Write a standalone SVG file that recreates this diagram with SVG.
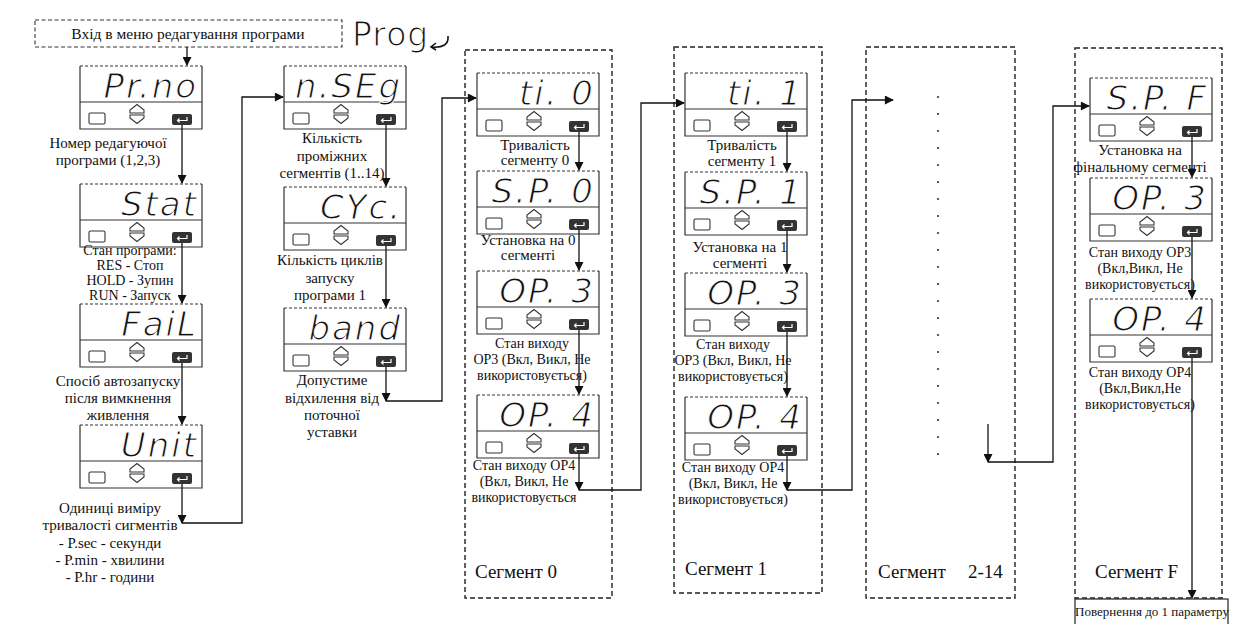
<svg xmlns="http://www.w3.org/2000/svg" xmlns:xlink="http://www.w3.org/1999/xlink" width="1233" height="624" viewBox="0 0 1233 624">
<style>
.lbl{font-family:"Liberation Serif","Times New Roman",serif;font-size:15px;fill:#111;text-anchor:middle}
.sm{font-size:14px}
.seg{font-family:"Liberation Serif","Times New Roman",serif;font-size:19px;fill:#111}
.disp{font-family:"DejaVu Sans","Liberation Sans",sans-serif;font-size:34px;fill:#111;text-anchor:end;font-style:italic;letter-spacing:2px;stroke:#fff;stroke-width:1.1px}
.cont{fill:none;stroke:#222;stroke-width:1.4;stroke-dasharray:5 3}
.conn path{fill:none;stroke:#111;stroke-width:1.3}
.arr{marker-end:url(#ah)}
</style>
<defs>
<marker id="ah" viewBox="0 0 10 10" refX="9" refY="5" markerWidth="10" markerHeight="9" markerUnits="userSpaceOnUse" orient="auto">
<path d="M0 0 L10 5 L0 10 Z" fill="#111"/>
</marker>
<g id="panel">
<rect x="0" y="0" width="122" height="63" fill="#fff" stroke="none"/>
<path d="M0 0 V63 H122 V0" fill="none" stroke="#333" stroke-width="1.2"/>
<path d="M0 0 H122" fill="none" stroke="#333" stroke-width="1" stroke-dasharray="3 2"/>
<path d="M0 36 H122" fill="none" stroke="#333" stroke-width="1.2"/>
<rect x="9" y="47" width="16" height="11" rx="1.5" fill="none" stroke="#333" stroke-width="1.1"/>
<path d="M50 47 V44 L57 38.5 L64 44 V47 Z" fill="none" stroke="#333" stroke-width="1.1"/>
<path d="M50 49 H64 V52 L57 57.5 L50 52 Z" fill="none" stroke="#333" stroke-width="1.1"/>
<rect x="92" y="48" width="20" height="11" rx="2" fill="#333"/>
<path d="M107 51 V54.5 H97.5 M99.5 52.5 L97.5 54.5 L99.5 56.5" fill="none" stroke="#fff" stroke-width="1.2"/>
</g>
</defs>
<rect width="1233" height="624" fill="#fff"/>

<g id="start">
<rect x="35" y="20" width="307" height="27" fill="none" stroke="#333" stroke-width="1.1" stroke-dasharray="4 2.5"/>
<text class="lbl" x="188" y="38.5" style="font-size:15.5px">Вхід в меню редагування програми</text>
</g>
<g id="prog-note">
<text x="352" y="46" style="font-family:'DejaVu Sans',sans-serif;font-size:33px;fill:#111;letter-spacing:1px;stroke:#fff;stroke-width:1.2px">Prog</text>
<path d="M448 36 C449 45 442 48 432 47 M436 43 L431 47 L436 50" fill="none" stroke="#111" stroke-width="1.6"/>
</g>

<g id="n-prno"><use xlink:href="#panel" x="80" y="66"/><text class="disp" x="198" y="98">Pr.no</text>
<text class="lbl" x="108" y="148">Номер редагуючої</text><text class="lbl" x="108" y="165">програми (1,2,3)</text></g>
<g id="n-stat"><use xlink:href="#panel" x="80" y="184"/><text class="disp" x="198" y="216">Stat</text>
<text class="lbl sm" x="130" y="255">Стан програми:</text><text class="lbl sm" x="130" y="270">RES - Стоп</text><text class="lbl sm" x="130" y="285">HOLD - Зупин</text><text class="lbl sm" x="130" y="300">RUN - Запуск</text></g>
<g id="n-fail"><use xlink:href="#panel" x="80" y="304"/><text class="disp" x="198" y="336">FaiL</text>
<text class="lbl" x="118" y="386">Спосіб автозапуску</text><text class="lbl" x="118" y="403">після вимкнення</text><text class="lbl" x="118" y="420">живлення</text></g>
<g id="n-unit"><use xlink:href="#panel" x="80" y="425"/><text class="disp" x="198" y="457">Unit</text>
<text class="lbl" x="110" y="513">Одиниці виміру</text><text class="lbl" x="110" y="530">тривалості сигментів</text><text class="lbl" x="110" y="548">- P.sec - секунди</text><text class="lbl" x="110" y="565">- P.min - хвилини</text><text class="lbl" x="110" y="582">- P.hr - години</text></g>

<g id="n-nseg"><use xlink:href="#panel" x="284" y="66"/><text class="disp" x="402" y="98">n.SEg</text>
<text class="lbl" x="332" y="143">Кількість</text><text class="lbl" x="332" y="161">проміжних</text><text class="lbl" x="332" y="178">сегментів (1..14)</text></g>
<g id="n-cyc"><use xlink:href="#panel" x="284" y="187"/><text class="disp" x="402" y="219">CYc.</text>
<text class="lbl" x="330" y="265">Кількість циклів</text><text class="lbl" x="330" y="283">запуску</text><text class="lbl" x="330" y="300">програми 1</text></g>
<g id="n-band"><use xlink:href="#panel" x="284" y="308"/><text class="disp" x="402" y="340">band</text>
<text class="lbl" x="332" y="385">Допустиме</text><text class="lbl" x="332" y="403">відхилення від</text><text class="lbl" x="332" y="420">поточної</text><text class="lbl" x="332" y="437">уставки</text></g>

<g id="seg0">
<rect class="cont" x="465" y="50" width="147" height="548"/>
<text class="seg" x="475" y="578">Сегмент 0</text>
</g>
<g id="n-ti0"><use xlink:href="#panel" x="477" y="73"/><text class="disp" x="595" y="105">ti. 0</text>
<text class="lbl" x="535" y="150">Тривалість</text><text class="lbl" x="535" y="165">сегменту 0</text></g>
<g id="n-sp0"><use xlink:href="#panel" x="477" y="171"/><text class="disp" x="595" y="203">S.P. 0</text>
<text class="lbl" x="528" y="245">Установка на 0</text><text class="lbl" x="528" y="260">сегменті</text></g>
<g id="n-op3-0"><use xlink:href="#panel" x="477" y="271"/><text class="disp" x="595" y="303">OP. 3</text>
<text class="lbl sm" x="532" y="348">Стан виходу</text><text class="lbl sm" x="532" y="364">OP3 (Вкл, Викл, Не</text><text class="lbl sm" x="532" y="380">використовується)</text></g>
<g id="n-op4-0"><use xlink:href="#panel" x="477" y="395"/><text class="disp" x="595" y="427">OP. 4</text>
<text class="lbl sm" x="524" y="470">Стан виходу OP4</text><text class="lbl sm" x="524" y="486">(Вкл, Викл, Не</text><text class="lbl sm" x="524" y="502">використовується</text></g>

<g id="seg1">
<rect class="cont" x="674" y="47" width="148" height="546"/>
<text class="seg" x="685" y="575">Сегмент 1</text>
</g>
<g id="n-ti1"><use xlink:href="#panel" x="685" y="73"/><text class="disp" x="803" y="105">ti. 1</text>
<text class="lbl" x="742" y="150">Тривалість</text><text class="lbl" x="742" y="166">сегменту 1</text></g>
<g id="n-sp1"><use xlink:href="#panel" x="685" y="172"/><text class="disp" x="803" y="204">S.P. 1</text>
<text class="lbl" x="740" y="252">Установка на 1</text><text class="lbl" x="740" y="268">сегменті</text></g>
<g id="n-op3-1"><use xlink:href="#panel" x="685" y="273"/><text class="disp" x="803" y="305">OP. 3</text>
<text class="lbl sm" x="733" y="349">Стан виходу</text><text class="lbl sm" x="733" y="365">OP3 (Вкл, Викл, Не</text><text class="lbl sm" x="733" y="381">використовується)</text></g>
<g id="n-op4-1"><use xlink:href="#panel" x="685" y="397"/><text class="disp" x="803" y="429">OP. 4</text>
<text class="lbl sm" x="733" y="472">Стан виходу OP4</text><text class="lbl sm" x="733" y="488">(Вкл, Викл, Не</text><text class="lbl sm" x="733" y="504">використовується)</text></g>

<g id="seg2-14">
<rect class="cont" x="866" y="47" width="149" height="551"/>
<g fill="#333">
<circle cx="938" cy="97" r="1.1"/><circle cx="938" cy="114" r="1.1"/><circle cx="938" cy="131" r="1.1"/><circle cx="938" cy="148" r="1.1"/><circle cx="938" cy="165" r="1.1"/><circle cx="938" cy="182" r="1.1"/><circle cx="938" cy="199" r="1.1"/><circle cx="938" cy="216" r="1.1"/><circle cx="938" cy="233" r="1.1"/><circle cx="938" cy="250" r="1.1"/><circle cx="938" cy="267" r="1.1"/><circle cx="938" cy="284" r="1.1"/><circle cx="938" cy="301" r="1.1"/><circle cx="938" cy="318" r="1.1"/><circle cx="938" cy="335" r="1.1"/><circle cx="938" cy="352" r="1.1"/><circle cx="938" cy="369" r="1.1"/><circle cx="938" cy="386" r="1.1"/><circle cx="938" cy="403" r="1.1"/><circle cx="938" cy="420" r="1.1"/><circle cx="938" cy="437" r="1.1"/><circle cx="938" cy="454" r="1.1"/>
</g>
<text class="seg" x="878" y="578">Сегмент</text><text class="seg" x="968" y="578">2-14</text>
</g>

<g id="segF">
<rect class="cont" x="1075" y="48" width="147" height="550"/>
<text class="seg" x="1095" y="578">Сегмент F</text>
</g>
<g id="n-spf"><use xlink:href="#panel" x="1090" y="78"/><text class="disp" x="1208" y="110">S.P. F</text>
<text class="lbl" x="1140" y="155">Установка на</text><text class="lbl" x="1140" y="172">фінальному сегменті</text></g>
<g id="n-op3-f"><use xlink:href="#panel" x="1090" y="178"/><text class="disp" x="1208" y="210">OP. 3</text>
<text class="lbl sm" x="1140" y="257">Стан виходу OP3</text><text class="lbl sm" x="1140" y="273">(Вкл,Викл, Не</text><text class="lbl sm" x="1140" y="289">використовується)</text></g>
<g id="n-op4-f"><use xlink:href="#panel" x="1090" y="299"/><text class="disp" x="1208" y="331">OP. 4</text>
<text class="lbl sm" x="1140" y="377">Стан виходу OP4</text><text class="lbl sm" x="1140" y="393">(Вкл,Викл,Не</text><text class="lbl sm" x="1140" y="409">використовується)</text></g>

<g id="n-return">
<rect x="1075" y="599" width="153" height="32" fill="#fff" stroke="#222" stroke-width="1.2"/>
<text class="lbl" x="1152" y="616" style="font-size:13px">Повернення до 1 параметру</text>
</g>

<g id="connectors" class="conn">
<path class="arr" d="M187 47 V65"/>
<path class="arr" d="M182 125 V183"/>
<path class="arr" d="M182 243 V303"/>
<path class="arr" d="M182 363 V424"/>
<path class="arr" d="M182 484 V523"/>
<path class="arr" d="M182 523 H242 V97 H283"/>
<path class="arr" d="M386 125 V186"/>
<path class="arr" d="M386 246 V307"/>
<path class="arr" d="M386 367 V401"/>
<path class="arr" d="M386 401 H442 V98 H476"/>
<path class="arr" d="M579 132 V170"/>
<path class="arr" d="M579 230 V270"/>
<path class="arr" d="M579 330 V394"/>
<path class="arr" d="M579 454 V490"/>
<path class="arr" d="M579 490 H641 V103 H684"/>
<path class="arr" d="M787 132 V171"/>
<path class="arr" d="M787 231 V272"/>
<path class="arr" d="M787 332 V396"/>
<path class="arr" d="M787 456 V490"/>
<path class="arr" d="M787 490 H852 V100 H893"/>
<path class="arr" d="M988 424 V462"/>
<path class="arr" d="M988 462 H1053 V106 H1089"/>
<path class="arr" d="M1192 137 V177"/>
<path class="arr" d="M1192 237 V298"/>
<path class="arr" d="M1192 358 V598"/>
</g>
</svg>
